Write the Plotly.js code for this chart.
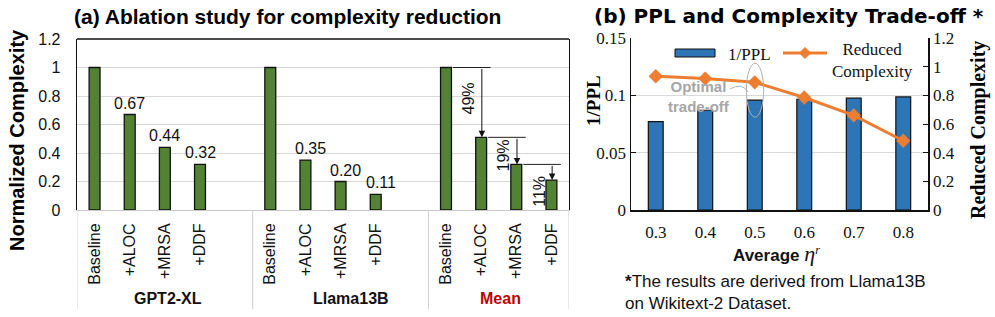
<!DOCTYPE html>
<html>
<head>
<meta charset="utf-8">
<script src="https://cdn.plot.ly/plotly-3.0.1.min.js"></script>
<style>
html,body{margin:0;padding:0;background:#fff;}
#chart{width:995px;height:317px;}
</style>
</head>
<body>
<div id="chart"></div>
<script>
// ---------- Data: (a) ablation ----------
const groups = ["GPT2-XL", "Llama13B", "Mean"];
const methods = ["Baseline", "+ALOC", "+MRSA", "+DDF"];
const gpt2xl = [1, 0.67, 0.44, 0.32];
const llama13b = [1, 0.35, 0.20, 0.11];
const meanVals = [1, 0.51, 0.32, 0.21];
const yTicksA = [0, 0.2, 0.4, 0.6, 0.8, 1, 1.2];

// ---------- Data: (b) trade-off ----------
const etaCats = ["0.3", "0.4", "0.5", "0.6", "0.7", "0.8"];
const invPPL = [0.077, 0.087, 0.0958, 0.0966, 0.0975, 0.0986];
const reducedComplexity = [0.933, 0.917, 0.891, 0.785, 0.66, 0.483];
const yTicksB = [0, 0.05, 0.1, 0.15];
const yTicksB2 = [0, 0.2, 0.4, 0.6, 0.8, 1, 1.2];

// ---------- Build (a) ----------
const seriesA = [gpt2xl, llama13b, meanVals];
const slot = 5; // 4 bars + one blank slot per group
const xA = [], yA = [], tickvals = [], ticktext = [];
seriesA.forEach((vals, g) => {
  vals.forEach((v, i) => {
    const p = g * slot + i;
    xA.push(p); yA.push(v);
    tickvals.push(p); ticktext.push(methods[i]);
  });
});

const traces = [];
traces.push({
  type: 'bar', x: xA, y: yA, xaxis: 'x', yaxis: 'y',
  width: 0.31,
  marker: {color: '#548235', line: {color: '#111', width: 1.3}},
  hoverinfo: 'skip', showlegend: false
});

// ---------- Build (b) ----------
traces.push({
  type: 'bar', x: etaCats, y: invPPL, xaxis: 'x2', yaxis: 'y2',
  width: 0.3,
  marker: {color: '#2e75b6', line: {color: '#111', width: 1.2}},
  showlegend: false, hoverinfo: 'skip'
});
traces.push({
  type: 'scatter', mode: 'lines+markers', x: etaCats, y: reducedComplexity,
  xaxis: 'x2', yaxis: 'y3',
  line: {color: '#ed7d31', width: 3},
  marker: {symbol: 'diamond', size: 11, color: '#ed7d31'},
  showlegend: false, hoverinfo: 'skip'
});

const arial = 'Liberation Sans, Arial, sans-serif';
const serif = 'Liberation Serif, Times New Roman, serif';
const W = 995, H = 317;
const px = v => v / W;
const py = v => (H - v) / H;

const annotations = [];
const shapes = [];
function note(o) {
  annotations.push(Object.assign({showarrow: false, xanchor: 'center', yanchor: 'middle'}, o));
}

// data labels for GPT2-XL and Llama13B (non-baseline)
[gpt2xl, llama13b].forEach((vals, g) => {
  vals.forEach((v, i) => {
    if (i === 0) return;
    note({
      xref: 'x', yref: 'y', x: g * slot + i, y: v,
      text: v.toFixed(2), yanchor: 'bottom', yshift: 1,
      xshift: g === 1 ? 5 : 0,
      font: {family: arial, size: 16, color: '#111'}
    });
  });
});

// arrows for Mean reductions
const mBase = 2 * slot;
for (let i = 1; i < meanVals.length; i++) {
  const prev = meanVals[i - 1], cur = meanVals[i];
  const p0 = mBase + i - 1, c0 = mBase + i;
  shapes.push({type: 'line', xref: 'x', yref: 'y', x0: p0 + 0.2, x1: c0 + 0.27, y0: prev, y1: prev,
    line: {color: '#222', width: 1}});
  annotations.push({
    xref: 'x', yref: 'y', axref: 'x', ayref: 'y',
    x: c0 + 0.02, y: cur, ax: c0 + 0.02, ay: prev, text: '',
    showarrow: true, arrowhead: 2, arrowsize: 1.3, arrowwidth: 1, arrowcolor: '#111', standoff: 0
  });
  const pct = Math.round((prev - cur) * 100) + '%';
  const labY = [0.786, 0.38, 0.133][i - 1];
  note({
    xref: 'x', yref: 'y', x: c0 - 0.36, y: labY, text: pct, textangle: -90,
    font: {family: arial, size: 16, color: '#111'}
  });
}

// group labels under category axis
const groupLabelX = [2.1, 7.3, 11.55];
groups.forEach((gname, g) => {
  note({
    xref: 'x', yref: 'paper', x: groupLabelX[g], y: py(298),
    text: '<b>' + gname + '</b>',
    font: {family: arial, size: 16, color: g === 2 ? '#c00000' : '#111'}
  });
});
// separators of the category table
[-0.5, 4.5, 9.5, 13.5].forEach(sx => {
  shapes.push({type: 'line', xref: 'x', yref: 'paper', x0: sx, x1: sx,
    y0: py(210), y1: py(309), line: {color: '#d0d0d0', width: 1}});
});
// top border of (a)
shapes.push({type: 'line', xref: 'x domain', yref: 'y domain', x0: 0, x1: 1, y0: 1, y1: 1,
  line: {color: '#111', width: 1.3}});

// titles
note({xref: 'paper', yref: 'paper', x: px(287), y: py(16),
  text: '<b>(a) Ablation study for complexity reduction</b>',
  font: {family: arial, size: 21, color: '#000'}});
note({xref: 'paper', yref: 'paper', x: px(789), y: py(16),
  text: '<b>(b) PPL and Complexity Trade-off *</b>',
  font: {family: 'DejaVu Sans, sans-serif', size: 20, color: '#000'}});

// axis titles
note({xref: 'paper', yref: 'paper', x: px(17), y: py(140), textangle: -90,
  text: '<b>Normalized Complexity</b>', font: {family: arial, size: 20, color: '#000'}});
note({xref: 'paper', yref: 'paper', x: px(593), y: py(101), textangle: -90,
  text: '<b>1/PPL</b>', font: {family: serif, size: 19, color: '#000'}});
note({xref: 'paper', yref: 'paper', x: px(978), y: py(130), textangle: -90,
  text: '<b>Reduced Complexity</b>', font: {family: serif, size: 20, color: '#000'}});

// (b) legend drawn manually
shapes.push({type: 'rect', xref: 'paper', yref: 'paper', x0: px(675), x1: px(715),
  y0: py(57), y1: py(49), fillcolor: '#2e75b6', line: {color: '#111', width: 1}});
note({xref: 'paper', yref: 'paper', x: px(726), y: py(54), xanchor: 'left',
  text: '1/PPL', font: {family: serif, size: 17, color: '#111'}});
shapes.push({type: 'line', xref: 'paper', yref: 'paper', x0: px(783), x1: px(827),
  y0: py(53), y1: py(53), line: {color: '#ed7d31', width: 3}});
shapes.push({type: 'path', xref: 'paper', yref: 'paper',
  path: 'M ' + px(805) + ' ' + py(47.5) + ' L ' + px(810.5) + ' ' + py(53) +
        ' L ' + px(805) + ' ' + py(58.5) + ' L ' + px(799.5) + ' ' + py(53) + ' Z',
  fillcolor: '#ed7d31', line: {color: '#ed7d31', width: 1}});
note({xref: 'paper', yref: 'paper', x: px(872), y: py(60),
  text: 'Reduced<br>Complexity', align: 'center',
  font: {family: serif, size: 17, color: '#111'}});

// Optimal trade-off note
note({xref: 'paper', yref: 'paper', x: px(699), y: py(96),
  text: '<b>Optimal<br>trade-off</b>', align: 'center',
  font: {family: arial, size: 15, color: '#a6a6a6'}});
shapes.push({type: 'circle', xref: 'x2', yref: 'y2', x0: 1.83, x1: 2.18, y0: 0.081, y1: 0.128,
  line: {color: '#b0b0b0', width: 1}});
shapes.push({type: 'path', xref: 'paper', yref: 'paper',
  path: 'M ' + px(730) + ' ' + py(89) + ' Q ' + px(742) + ' ' + py(82) + ' ' + px(748) + ' ' + py(92),
  line: {color: '#b0b0b0', width: 1}});

// x title for (b)
note({xref: 'paper', yref: 'paper', x: px(776), y: py(253),
  text: '<b>Average</b> <span style="font-family:Liberation Serif;font-style:italic;font-size:22px">η</span><sup><span style="font-family:Liberation Serif;font-style:italic">r</span></sup>',
  font: {family: arial, size: 17, color: '#111'}});

// footnote
note({xref: 'paper', yref: 'paper', x: px(623), y: py(292), xanchor: 'left',
  text: '<b>*</b>The results are derived from Llama13B<br>on Wikitext-2 Dataset.', align: 'left',
  font: {family: arial, size: 17, color: '#111'}});

const layout = {
  width: W, height: H,
  margin: {l: 0, r: 0, t: 0, b: 0},
  paper_bgcolor: '#fff', plot_bgcolor: '#fff',
  showlegend: false,
  bargap: 0,
  xaxis: {
    domain: [px(77), px(569)], range: [-0.5, 13.5], tickvals: tickvals, ticktext: ticktext,
    tickangle: -90, ticks: '', showgrid: false, zeroline: false,
    showline: true, linecolor: '#c8c8c8', linewidth: 1,
    ticklabelstandoff: 6,
    tickfont: {family: arial, size: 16, color: '#111'}, fixedrange: true
  },
  yaxis: {
    domain: [py(210), py(39)], range: [0, 1.2], tickvals: yTicksA,
    ticktext: yTicksA.map(v => String(v)),
    showgrid: true, gridcolor: '#d9d9d9', gridwidth: 1, zeroline: false,
    showline: true, linecolor: '#111', linewidth: 1.3, mirror: true, ticks: '',
    ticklabelstandoff: 12,
    tickfont: {family: arial, size: 16, color: '#111'},
    fixedrange: true
  },
  xaxis2: {
    domain: [px(631), px(928)], type: 'category', range: [-0.5, 5.5], anchor: 'y2',
    ticks: '', showgrid: false, zeroline: false,
    showline: true, linecolor: '#111', linewidth: 1.5,
    tickfont: {family: serif, size: 17, color: '#111'}, ticklabelstandoff: 6, fixedrange: true
  },
  yaxis2: {
    domain: [py(210), py(38)], range: [0, 0.15], anchor: 'x2',
    tickvals: yTicksB, ticktext: yTicksB.map(v => String(v)),
    showgrid: true, gridcolor: '#d9d9d9', zeroline: false,
    showline: true, linecolor: '#111', linewidth: 1.5, ticks: 'inside', ticklen: 5, tickcolor: '#111',
    tickfont: {family: serif, size: 17, color: '#111'},
    fixedrange: true
  },
  yaxis3: {
    domain: [py(210), py(38)], range: [0, 1.2], anchor: 'x2', overlaying: 'y2', side: 'right',
    tickvals: yTicksB2, ticktext: yTicksB2.map(v => String(v)),
    showgrid: false, zeroline: false,
    showline: true, linecolor: '#111', linewidth: 1.5, ticks: 'inside', ticklen: 5, tickcolor: '#111',
    tickfont: {family: serif, size: 17, color: '#111'},
    fixedrange: true
  },
  annotations: annotations,
  shapes: shapes
};

Plotly.newPlot('chart', traces, layout, {displayModeBar: false, staticPlot: true});
</script>
</body>
</html>
